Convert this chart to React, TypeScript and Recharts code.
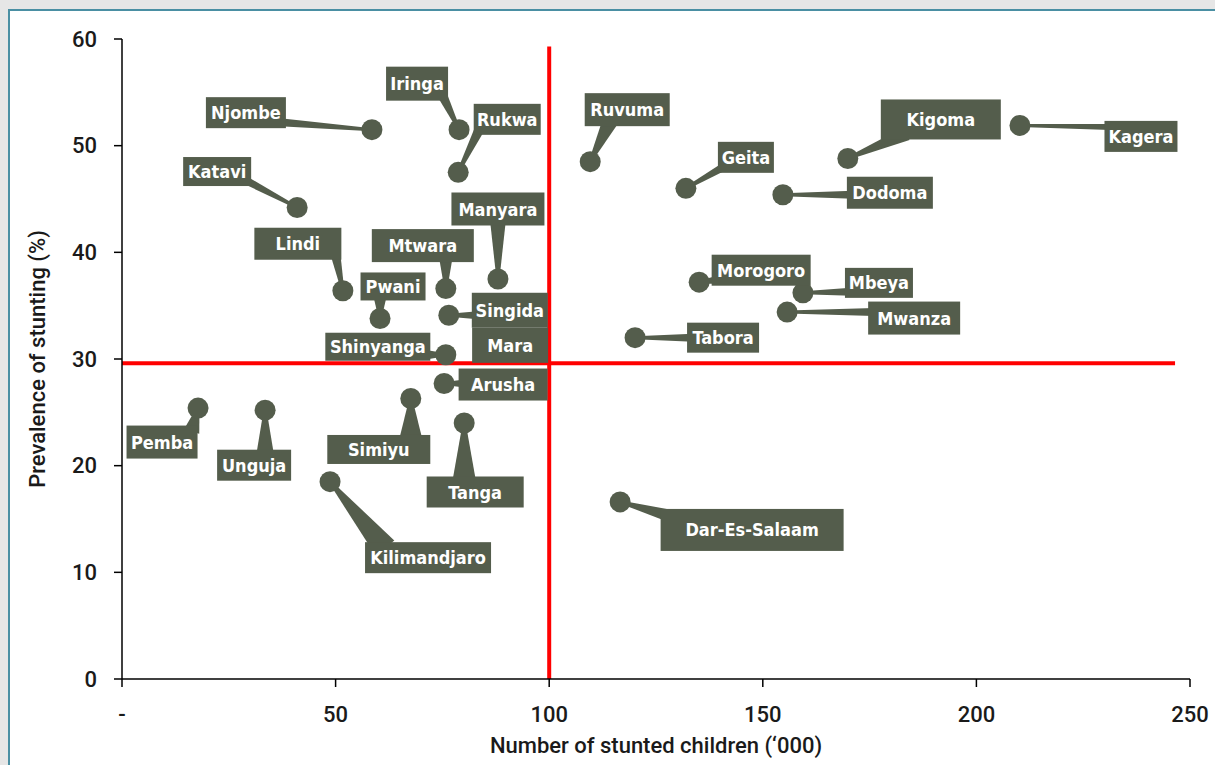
import React from 'react';
import {
  ScatterChart,
  Scatter,
  XAxis,
  YAxis,
  ReferenceLine,
  Label,
} from 'recharts';

// regions, stunted children ('000) and prevalence of stunting (%)
const regions = [
  'Njombe', 'Iringa', 'Rukwa', 'Katavi', 'Lindi', 'Pwani', 'Mtwara', 'Manyara',
  'Singida', 'Mara', 'Shinyanga', 'Arusha', 'Pemba', 'Unguja', 'Simiyu', 'Tanga',
  'Kilimandjaro', 'Dar-Es-Salaam', 'Ruvuma', 'Geita', 'Kigoma', 'Kagera', 'Dodoma',
  'Morogoro', 'Mbeya', 'Mwanza', 'Tabora',
];
const stuntedThousands = [
  58.5, 78.9, 78.7, 41.0, 51.7, 60.4, 75.8, 88.0,
  76.5, 85.0, 75.8, 75.4, 17.8, 33.5, 67.6, 80.1,
  48.7, 116.6, 109.6, 132.0, 169.9, 210.2, 154.7,
  135.1, 159.4, 155.7, 120.1,
];
const prevalence = [
  51.5, 51.5, 47.5, 44.2, 36.4, 33.8, 36.6, 37.5,
  34.1, 31.0, 30.4, 27.7, 25.4, 25.2, 26.3, 24.0,
  18.5, 16.6, 48.5, 46.0, 48.8, 51.9, 45.4,
  37.2, 36.2, 34.4, 32.0,
];
const xTicks = [0, 50, 100, 150, 200, 250];
const yTicks = [0, 10, 20, 30, 40, 50, 60];
const nationalAverage = 29.6; // horizontal red line
const splitChildren = 100; // vertical red line

// callout layout (pixel offsets of label box centre from the point)
const callouts: Record<string, { dx: number; dy: number; w: number; h: number; wedge: number; shift?: number; line?: boolean }> = {
  Njombe: { dx: -126, dy: -17, w: 80, h: 31, wedge: 4 },
  Iringa: { dx: -42, dy: -46, w: 62, h: 34, wedge: 5 },
  Rukwa: { dx: 49, dy: -53, w: 67, h: 31, wedge: 5 },
  Katavi: { dx: -80, dy: -36, w: 68, h: 29, wedge: 4 },
  Lindi: { dx: -45, dy: -47, w: 87, h: 32, wedge: 5 },
  Pwani: { dx: 13, dy: -32, w: 65, h: 28, wedge: 7 },
  Mtwara: { dx: -23, dy: -43, w: 102, h: 33, wedge: 7 },
  Manyara: { dx: 0, dy: -70, w: 93, h: 33, wedge: 8 },
  Singida: { dx: 61, dy: -5, w: 76, h: 35, wedge: 4 },
  Mara: { dx: 25, dy: -3, w: 76, h: 35, wedge: 0, line: false },
  Shinyanga: { dx: -68, dy: -8, w: 105, h: 28, wedge: 5 },
  Arusha: { dx: 59, dy: 1, w: 89, h: 32, wedge: 4 },
  Pemba: { dx: -36, dy: 34, w: 71, h: 33, wedge: 8 },
  Unguja: { dx: -11, dy: 55, w: 74, h: 31, wedge: 9 },
  Simiyu: { dx: -32, dy: 51, w: 103, h: 29, wedge: 12 },
  Tanga: { dx: 11, dy: 69, w: 97, h: 31, wedge: 12 },
  Kilimandjaro: { dx: 98, dy: 76, w: 126, h: 31, wedge: 12, shift: 14 },
  'Dar-Es-Salaam': { dx: 132, dy: 28, w: 183, h: 42, wedge: 6 },
  Ruvuma: { dx: 37, dy: -52, w: 85, h: 33, wedge: 8, shift: 20 },
  Geita: { dx: 60, dy: -31, w: 56, h: 31, wedge: 4 },
  Kigoma: { dx: 93, dy: -39, w: 120, h: 40, wedge: 7, shift: 20 },
  Kagera: { dx: 121, dy: 11, w: 73, h: 31, wedge: 3 },
  Dodoma: { dx: 107, dy: -2, w: 86, h: 32, wedge: 4 },
  Morogoro: { dx: 62, dy: -12, w: 99, h: 31, wedge: 4 },
  Mbeya: { dx: 76, dy: -10, w: 68, h: 30, wedge: 4 },
  Mwanza: { dx: 127, dy: 6, w: 92, h: 33, wedge: 4 },
  Tabora: { dx: 88, dy: 0, w: 72, h: 30, wedge: 4 },
};

const data = regions.map((name, i) => ({
  name,
  x: stuntedThousands[i],
  y: prevalence[i],
}));

const BOX = '#545d4c';
const AXIS_FONT = 'Roboto, "Liberation Sans", sans-serif';
const LABEL_FONT = '"Liberation Sans Narrow", "DejaVu Sans Condensed", Roboto, sans-serif';

const PointShape = (props: any) => {
  const { cx, cy, payload } = props;
  const c = callouts[payload.name];
  let wedge = null;
  if (c && c.line !== false) {
    const bx = cx + c.dx;
    const by = cy + c.dy;
    let ax = Math.min(Math.max(cx, bx - c.w / 2 + 6), bx + c.w / 2 - 6);
    const ay = Math.min(Math.max(cy, by - c.h / 2 + 6), by + c.h / 2 - 6);
    if (c.shift) ax += cx < bx ? c.shift : -c.shift;
    const len = Math.hypot(ax - cx, ay - cy) || 1;
    const px = -(ay - cy) / len;
    const py = (ax - cx) / len;
    const pts = [
      [ax + px * c.wedge, ay + py * c.wedge],
      [cx + px * 1.5, cy + py * 1.5],
      [cx - px * 1.5, cy - py * 1.5],
      [ax - px * c.wedge, ay - py * c.wedge],
    ];
    wedge = <polygon points={pts.map((p) => p.join(',')).join(' ')} fill={BOX} />;
  }
  return (
    <g>
      {wedge}
      <circle cx={cx} cy={cy} r={10.5} fill={BOX} />
    </g>
  );
};

const BoxShape = (props: any) => {
  const { cx, cy, payload } = props;
  const c = callouts[payload.name];
  if (!c) return <g />;
  const bx = cx + c.dx;
  const by = cy + c.dy;
  return (
    <g>
      <rect x={bx - c.w / 2} y={by - c.h / 2} width={c.w} height={c.h} fill={BOX} />
      <text
        x={bx}
        y={by}
        textAnchor="middle"
        dominantBaseline="central"
        fill="#ffffff"
        fontFamily={LABEL_FONT}
        fontWeight={700}
        fontSize={18}
      >
        {payload.name}
      </text>
    </g>
  );
};

export default function App() {
  return (
    <div
      style={{
        position: 'absolute',
        left: 0,
        top: 0,
        width: 1215,
        height: 765,
        background: '#e6e6e6',
        overflow: 'hidden',
      }}
    >
      <div
        style={{
          position: 'absolute',
          left: 8,
          top: 9,
          width: 1240,
          height: 800,
          background: '#ffffff',
          border: '2px solid #4a8fa3',
          boxSizing: 'border-box',
        }}
      />
      <div style={{ position: 'absolute', left: 0, top: 0 }}>
        <ScatterChart width={1215} height={765} margin={{ top: 39, right: 25, bottom: 6, left: 2 }}>
          <XAxis
            type="number"
            dataKey="x"
            domain={[0, 250]}
            ticks={xTicks}
            tickFormatter={(v: number) => (v === 0 ? '-' : String(v))}
            height={80}
            tickSize={8}
            tickMargin={19}
            stroke="#000"
            strokeWidth={1.5}
            tick={{ fill: '#1a1a1a', fontSize: 22, fontFamily: AXIS_FONT, fontWeight: 500 }}
          >
            <Label
              content={({ viewBox }: any) => (
                <text
                  x={viewBox.x + viewBox.width / 2}
                  y={viewBox.y + 74}
                  textAnchor="middle"
                  fill="#1a1a1a"
                  fontFamily={AXIS_FONT}
                  fontWeight={500}
                  fontSize={22}
                >
                  Number of stunted children (‘000)
                </text>
              )}
            />
          </XAxis>
          <YAxis
            type="number"
            dataKey="y"
            domain={[0, 60]}
            ticks={yTicks}
            width={120}
            tickSize={8}
            tickMargin={17}
            stroke="#000"
            strokeWidth={1.5}
            tick={{ fill: '#1a1a1a', fontSize: 22, fontFamily: AXIS_FONT, fontWeight: 500 }}
          >
            <Label
              content={({ viewBox }: any) => {
                const x = 37;
                const y = viewBox.y + viewBox.height / 2;
                return (
                  <text
                    x={x}
                    y={y}
                    transform={`rotate(-90 ${x} ${y})`}
                    textAnchor="middle"
                    dominantBaseline="central"
                    fill="#1a1a1a"
                    fontFamily={AXIS_FONT}
                    fontWeight={500}
                    fontSize={22}
                  >
                    Prevalence of stunting (%)
                  </text>
                );
              }}
            />
          </YAxis>
          <Scatter data={data} shape={PointShape} isAnimationActive={false} />
          <Scatter data={data} shape={BoxShape} isAnimationActive={false} />
          <ReferenceLine
            segment={[
              { x: 0, y: nationalAverage },
              { x: 246.5, y: nationalAverage },
            ]}
            stroke="#ff0000"
            strokeWidth={4}
          />
          <ReferenceLine
            segment={[
              { x: splitChildren, y: 0 },
              { x: splitChildren, y: 59.3 },
            ]}
            stroke="#ff0000"
            strokeWidth={4}
          />
        </ScatterChart>
      </div>
    </div>
  );
}
